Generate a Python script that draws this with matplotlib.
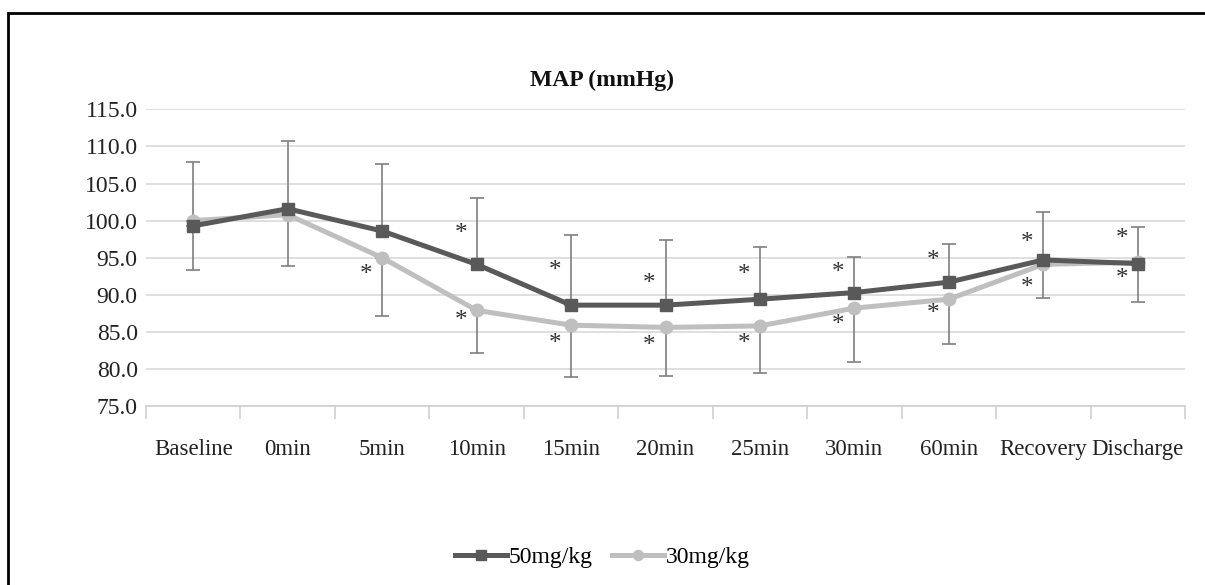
import matplotlib.pyplot as plt
from matplotlib.patches import Rectangle

plt.rcParams["font.family"] = ["Liberation Serif", "DejaVu Serif"]

# category labels along the x axis
labels = ["Baseline", "0min", "5min", "10min", "15min", "20min", "25min",
          "30min", "60min", "Recovery", "Discharge"]

# mean MAP per dose
map_50 = [99.3, 101.6, 98.6, 94.1, 88.6, 88.6, 89.4, 90.3, 91.7, 94.7, 94.2]
map_30 = [100.0, 100.8, 95.0, 87.9, 85.9, 85.6, 85.8, 88.2, 89.4, 94.1, 94.4]

# error bars: upper end on the 50mg series, lower end on the 30mg series
sd_50 = [8.6, 9.2, 9.0, 8.9, 9.4, 8.8, 7.1, 4.8, 5.2, 6.5, 5.0]
sd_30 = [6.6, 6.9, 7.9, 5.7, 7.0, 6.6, 6.4, 7.3, 6.1, 4.6, 5.4]

# significance asterisks (height of each mark, None = no mark)
star_hi = [None, None, None, 98.2, 93.2, 91.5, 92.7, 92.9, 94.5, 97.0, 97.5]
star_lo = [None, None, 92.6, 86.5, 83.4, 83.1, 83.4, 85.9, 87.4, 90.9, 92.1]

dark = "#595959"
light = "#bfbfbf"
x = list(range(len(labels)))

fig = plt.figure(figsize=(12.05, 5.85), dpi=100)
ax = fig.add_axes([0.1212, 0.306, 0.8622, 0.507])

# error bars
ax.errorbar(x, map_50, yerr=[[0] * len(x), sd_50], fmt="none", ecolor="#7f7f7f",
            elinewidth=1.2, capsize=5, capthick=1.2, zorder=2)
ax.errorbar(x, map_30, yerr=[sd_30, [0] * len(x)], fmt="none", ecolor="#7f7f7f",
            elinewidth=1.2, capsize=5, capthick=1.2, zorder=2)

ax.plot(x, map_50, color=dark, lw=3.6, marker="s", ms=9, label="50mg/kg", zorder=4)
ax.plot(x, map_30, color=light, lw=3.6, marker="o", ms=9, label="30mg/kg", zorder=3)

for i in x:
    if star_hi[i] is not None:
        ax.text(i - 0.17, star_hi[i], "*", ha="center", va="center", fontsize=18, color="#333333")
    if star_lo[i] is not None:
        ax.text(i - 0.17, star_lo[i], "*", ha="center", va="center", fontsize=18, color="#333333")

ax.set_xlim(-0.5, len(x) - 0.5)
ax.set_ylim(75, 115)
ax.set_yticks(range(75, 116, 5))
ax.set_yticklabels([f"{v:.1f}" for v in range(75, 116, 5)], fontsize=17, color="#222222")
ax.set_xticks(x)
ax.set_xticklabels(labels, fontsize=16.5, color="#222222")
ax.set_xticks([i - 0.5 for i in range(len(x) + 1)], minor=True)
ax.tick_params(axis="x", which="major", length=0, pad=24)
ax.tick_params(axis="x", which="minor", length=9, color="#d0d0d0", width=1.2)
ax.tick_params(axis="y", length=0, pad=6)

ax.grid(axis="y", color="#d9d9d9", lw=1.2)
ax.set_axisbelow(True)
for side in ["top", "right", "left"]:
    ax.spines[side].set_visible(False)
ax.spines["bottom"].set_color("#d0d0d0")
ax.spines["bottom"].set_linewidth(1.2)

fig.text(0.5, 0.862, "MAP (mmHg)", ha="center", va="center", fontsize=17,
         fontweight="bold", color="#111111")

fig.legend(loc="center", bbox_to_anchor=(0.5, 0.047), ncol=2, frameon=False,
           fontsize=17, handlelength=2.2, handletextpad=0.1, columnspacing=0.8,
           markerscale=0.8)

# outer frame (top and left edges visible)
fig.patches.append(Rectangle((8 / 1205, -0.05), 1.1, 1.05 - 13 / 585,
                             transform=fig.transFigure, fill=False,
                             edgecolor="black", lw=2))

fig.savefig("out.png", dpi=100)
